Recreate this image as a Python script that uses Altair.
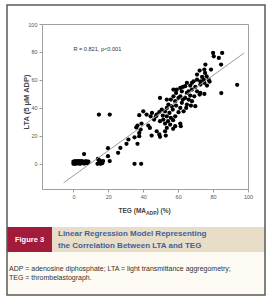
import altair as alt
import pandas as pd

# ---- data ----
teg = [0, 0, 0.7, 1, 1.3, 1.8, 2.3, 2.6, 3, 3.5, 3.8, 4.2, 4.8, 5.2, 5.7, 6.1, 6.3, 6.8, 7.2, 8, 8.6,
       13.8, 14, 14.6, 15, 15.5, 16, 16.5, 17,
       14.6, 20.8, 19.8, 19.8, 20.8,
       25.6, 26.9, 30.4, 31.5,
       35, 38.8,
       35, 36, 36.7, 36.7, 37.7, 37.7, 38.5, 37.7, 39,
       40, 41.9, 42.9, 43.8, 44.2, 44.8, 45, 46.2, 47.3, 47.7, 47.7, 49.2, 49.6, 49.2, 49.6, 49.6,
       50.6, 51.2, 51.5, 52.5, 52.5, 52.5, 52.9, 53.5, 53.5, 53.5, 53.5, 54.2, 54.4, 55, 55.4, 55.8,
       55.8, 56.3, 56.9, 57.1, 57.1, 57.3, 57.3, 58.3, 58.3, 58.3, 58.8, 58.8, 59.2, 60.2, 60.2,
       61.2, 61.2, 61.2, 61.5, 61.2, 62.1, 62.1, 62.7, 62.7, 63.1, 64, 64, 64.6, 65, 65, 65, 66, 66,
       66.9, 66.9, 67.3, 67.9, 67.9, 67.9, 68.8, 69.2, 69.8, 69.8, 70.8, 70.8, 70.8, 72.3, 72.3,
       72.7, 72.7, 72.7, 73.7, 74.6, 75, 75, 75, 75.4, 75.6, 76.3, 76.5, 77.5, 78, 78.8,
       80, 80.4, 83.3, 85.2, 84.6, 84.7, 93.8]
lta = [0, 1.5, 0.5, 2, 0, 1, 2, 0.3, 1.2, 2, 0, 1, 2, 0.5, 1.5, 7, 0.2, 1, 2, 0.5, 1.5,
       0, 3.5, 1, 2.5, 0, 1.5, 0.5, 2,
       35.2, 35.2, 11.2, 5.5, 2,
       7.9, 11.4, 14.3, 17.4,
       0, 0,
       19, 26, 27.4, 14.3, 22.1, 34.8, 24.5, 19.8, 28.8,
       37.6, 35.2, 27.4, 25.7, 34, 20.2, 36.4, 31.7, 34, 35.2, 23.3, 21, 19.3, 36.9, 30.5, 47.1,
       38.8, 34.5, 31.7, 37.6, 28.8, 23.3, 20.2, 25.7, 34, 40, 46, 30.5, 42.4, 36.4, 28.1, 32.9,
       46, 41.2, 38.8, 31.2, 25, 48.3, 53.1, 34, 26.9, 44.8, 41.7, 50.7, 53.1, 36.9, 47.1,
       40, 48.3, 28.8, 26.9, 54.3, 43.6, 51.9, 46, 55, 37.6, 47.1, 55.5, 40, 42.4, 50.7, 57.9, 46, 51.9,
       48.8, 56, 41.7, 44.8, 53.1, 57.9, 59, 48.3, 41.2, 55, 51.9, 60.2, 63.8, 49.5, 66.7,
       50.7, 56.7, 59, 62.1, 60.2, 50, 57.9, 67.4, 65, 71, 62.6, 56, 60.2, 58.8, 67.4,
       79.3, 76.9, 75.7, 79.3, 71, 50.6, 56.5]
fit_teg = [-5.6, 97.6]
fit_lta = [-13.5, 79.1]
x_ticks = [0, 20, 40, 60, 80, 100]
y_ticks = [0, 20, 40, 60, 80, 100]
stat_text = "R = 0.821, p<0.001"
stat_pos = [0, 82]
y_title = "LTA (5 μM ADP)"
x_title_parts = ["TEG (MA", "ADP", ") (%)"]
fig_label = "Figure 3"
caption_lines = ["Linear Regression Model Representing", "the Correlation Between LTA and TEG"]
footnote_lines = ["ADP = adenosine diphosphate; LTA = light transmittance aggregometry;",
                  "TEG = thrombelastograph."]

FONT = "Liberation Sans"
L, T, W, H = 42, 24, 206, 165

pts = pd.DataFrame({"teg": teg, "lta": lta})
fit = pd.DataFrame({"teg": fit_teg, "lta": fit_lta})
stat = pd.DataFrame({"teg": [stat_pos[0]], "lta": [stat_pos[1]], "t": [stat_text]})
one = pd.DataFrame({"k": [0]})

xs = alt.Scale(domain=[-18, 100], nice=False, zero=False)
ys = alt.Scale(domain=[-18, 100], nice=False, zero=False)


def box(x0, y0, x1, y1, **kw):
    return alt.Chart(one).mark_rect(**kw).encode(
        x=alt.value(x0 - L), x2=alt.value(x1 - L),
        y=alt.value(y0 - T), y2=alt.value(y1 - T))


def label(txt, x, y, **kw):
    return alt.Chart(one).mark_text(text=txt, font=FONT, **kw).encode(
        x=alt.value(x - L), y=alt.value(y - T))


foot_bg = box(7, 252, 265, 295, fill="#fcfaf3")
red = box(7, 227, 52, 252, fill="#a31b3b")
beige = box(52, 227, 265, 252, fill="#e8ddc7")
frame = box(7, 5, 265, 295, filled=False, stroke="#5a5a5a", strokeWidth=1.5)

ax_common = dict(title=None, grid=False, domain=False, tickColor="#999",
                 tickSize=3, labelFontSize=5.5, labelColor="#555", labelFont=FONT,
                 labelPadding=2, labelOverlap=False, labelFlush=False)
x_axis = alt.Axis(values=x_ticks, **ax_common)
y_axis = alt.Axis(values=y_ticks, **ax_common)

X = alt.X("teg:Q", scale=xs, axis=x_axis)
Y = alt.Y("lta:Q", scale=ys, axis=y_axis)

points = alt.Chart(pts).mark_circle(size=18, color="black", opacity=1).encode(x=X, y=Y)
line = alt.Chart(fit).mark_line(color="#9a9a9a", strokeWidth=1).encode(x=X, y=Y)
stat_t = alt.Chart(stat).mark_text(align="left", baseline="middle", fontSize=5.6,
                                   font=FONT, color="#333").encode(x=X, y=Y, text="t:N")

ytitle = label(y_title, 26.5, 102, angle=270, align="center", baseline="middle",
               fontSize=7.5, fontWeight="bold", color="#444")
xt1 = label(x_title_parts[0], 146, 211, align="right", baseline="middle", fontSize=6.5,
            fontWeight="bold", color="#444")
xt2 = label(x_title_parts[1], 146, 213, align="left", baseline="middle", fontSize=5,
            fontWeight="bold", color="#444")
xt3 = label(x_title_parts[2], 156.5, 211, align="left", baseline="middle", fontSize=6.5,
            fontWeight="bold", color="#444")

fig_t = label(fig_label, 29.5, 240, align="center", baseline="middle", fontSize=7.5,
              fontWeight="bold", color="white")
cap1 = label(caption_lines[0], 58, 234, align="left", baseline="middle", fontSize=8,
             fontWeight="bold", color="#3f5f9c")
cap2 = label(caption_lines[1], 58, 246, align="left", baseline="middle", fontSize=8,
             fontWeight="bold", color="#3f5f9c")
fn1 = label(footnote_lines[0], 9, 269, align="left", baseline="middle", fontSize=7, color="#333")
fn2 = label(footnote_lines[1], 9, 278, align="left", baseline="middle", fontSize=7, color="#333")

chart = alt.layer(
    points, foot_bg, red, beige, frame, line, stat_t,
    ytitle, xt1, xt2, xt3, fig_t, cap1, cap2, fn1, fn2
).properties(
    width=W, height=H,
    autosize=alt.AutoSizeParams(type="none"),
    padding={"left": L, "top": T, "right": 274 - L - W, "bottom": 300 - T - H},
    background="white",
).configure_view(stroke="#a0a0a0", strokeWidth=1)

chart.save("out.html", embed_options={"renderer": "svg", "actions": False})
